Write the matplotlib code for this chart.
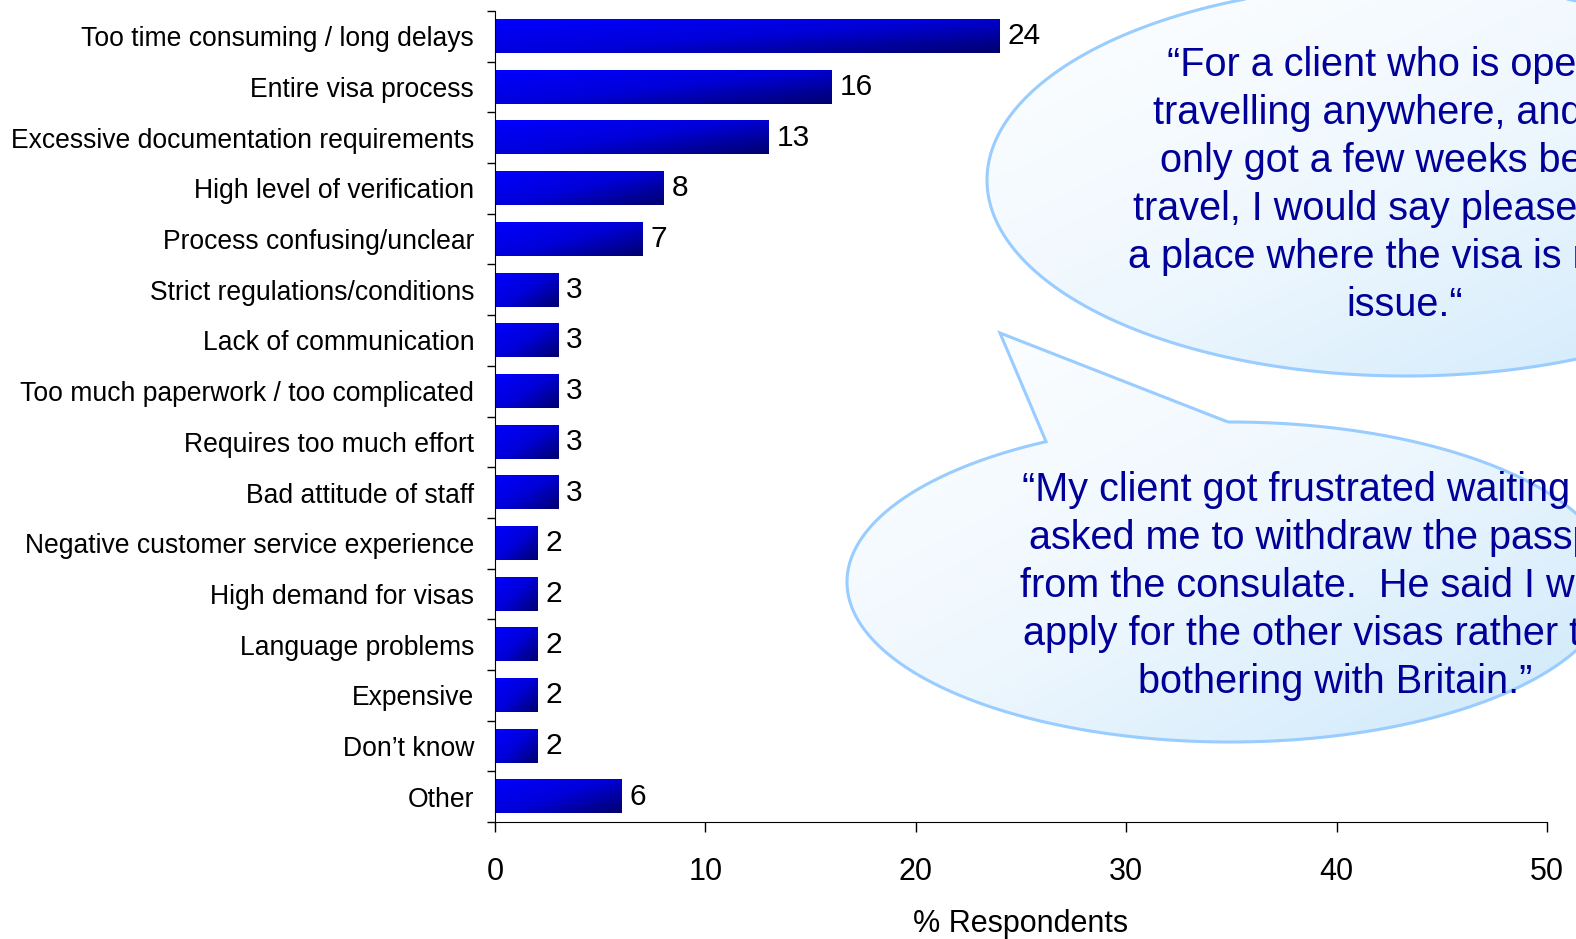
import numpy as np
import matplotlib
matplotlib.use("Agg")
import matplotlib.pyplot as plt
from matplotlib.path import Path
from matplotlib.patches import PathPatch
from matplotlib.colors import LinearSegmentedColormap

plt.rcParams['font.family'] = ['Liberation Sans', 'DejaVu Sans']

categories = [
    "Too time consuming / long delays",
    "Entire visa process",
    "Excessive documentation requirements",
    "High level of verification",
    "Process confusing/unclear",
    "Strict regulations/conditions",
    "Lack of communication",
    "Too much paperwork / too complicated",
    "Requires too much effort",
    "Bad attitude of staff",
    "Negative customer service experience",
    "High demand for visas",
    "Language problems",
    "Expensive",
    "Don\u2019t know",
    "Other",
]
values = [24, 16, 13, 8, 7, 3, 3, 3, 3, 3, 2, 2, 2, 2, 2, 6]
x_ticks = [0, 10, 20, 30, 40, 50]

quote1 = ("\u201cFor a client who is open to\n"
          "travelling anywhere, and has\n"
          "only got a few weeks before\n"
          "travel, I would say please go to\n"
          "a place where the visa is not an\n"
          "issue.\u201c")
quote2 = ("\u201cMy client got frustrated waiting and\n"
          "asked me to withdraw the passport\n"
          "from the consulate.  He said I would\n"
          "apply for the other visas rather than\n"
          "bothering with Britain.\u201d")

W, H = 1576, 939
fig = plt.figure(figsize=(W / 100, H / 100), dpi=100)
ax = fig.add_axes([495 / W, 1 - 822 / H, (1547 - 495) / W, (822 - 11) / H])

bar_cmap = LinearSegmentedColormap.from_list("bar", ["#0000ff", "#0000d8", "#00006e"])
bh = 0.66
gx, gy = np.meshgrid(np.linspace(0, 1, 200), np.linspace(0, 1, 40))
grad = 0.55 * gx + 0.45 * gy
for i, v in enumerate(values):
    ax.imshow(grad, extent=[0, v, i + bh / 2, i - bh / 2], cmap=bar_cmap,
              aspect='auto', interpolation='bilinear', zorder=2)
    ax.text(v + 0.38, i, str(v), va='center', ha='left', fontsize=21.5)

ax.set_xlim(0, 50)
ax.set_ylim(len(values) - 0.5, -0.5)
ax.set_xticks(x_ticks)
ax.set_xticklabels([str(t) for t in x_ticks], fontsize=22)
ax.set_yticks(range(len(categories)))
ax.set_yticklabels(categories, fontsize=19.1)
ax.set_yticks(np.arange(-0.5, len(categories), 1), minor=True)
ax.tick_params(axis='y', which='major', length=0, pad=15)
ax.tick_params(axis='y', which='minor', length=6, width=1, direction='out')
ax.tick_params(axis='x', length=7, width=1, direction='out', pad=18)
ax.set_xlabel("% Respondents", fontsize=22, labelpad=16)
for s in ['top', 'right']:
    ax.spines[s].set_visible(False)

# speech bubbles in pixel coordinates on an overlay
ov = fig.add_axes([0, 0, 1, 1], zorder=5)
ov.set_xlim(0, W)
ov.set_ylim(H, 0)
ov.axis('off')
ov.patch.set_alpha(0)

bub_cmap = LinearSegmentedColormap.from_list("bub", ["#ffffff", "#eef7fe", "#cce8fb"])


def ellipse_pts(cx, cy, a, b, t0, t1, n=300):
    t = np.radians(np.linspace(t0, t1, n))
    return np.column_stack([cx + a * np.cos(t), cy + b * np.sin(t)])


def bubble(pts, bbox):
    path = Path(np.vstack([pts, pts[:1]]), closed=True)
    x0, x1, y0, y1 = bbox
    bx, by = np.meshgrid(np.linspace(0, 1, 200), np.linspace(0, 1, 200))
    im = ov.imshow(0.5 * bx + 0.5 * by, extent=[x0, x1, y1, y0], cmap=bub_cmap,
                   aspect='auto', interpolation='bilinear', zorder=1)
    patch = PathPatch(path, facecolor='none', edgecolor='#99ccff', lw=2.2, zorder=2)
    ov.add_patch(patch)
    im.set_clip_path(patch)


# bubble 1
cx1, cy1, a1, b1 = 1406, 180, 419, 196
bubble(ellipse_pts(cx1, cy1, a1, b1, 0, 360), (cx1 - a1, cx1 + a1, cy1 - b1, cy1 + b1))

# bubble 2 with tail
cx2, cy2, a2, b2 = 1230, 582, 383, 160
p_right = (1228, 423)
p_left = (1057, 450)
apex = (1000, 333)
th1 = np.degrees(np.arctan2((p_right[1] - cy2) / b2, (p_right[0] - cx2) / a2))
th2 = np.degrees(np.arctan2((p_left[1] - cy2) / b2, (p_left[0] - cx2) / a2)) + 360
pts2 = np.vstack([ellipse_pts(cx2, cy2, a2, b2, th1, th2), [apex]])
bubble(pts2, (cx2 - a2, cx2 + a2, apex[1], cy2 + b2))

ov.text(1405, 185, quote1, ha='center', va='center', fontsize=28.5,
        color='#000099', linespacing=1.33, zorder=3)
ov.text(1335, 586, quote2, ha='center', va='center', fontsize=28.5,
        color='#000099', linespacing=1.33, zorder=3)

fig.savefig("out.png", dpi=100)
